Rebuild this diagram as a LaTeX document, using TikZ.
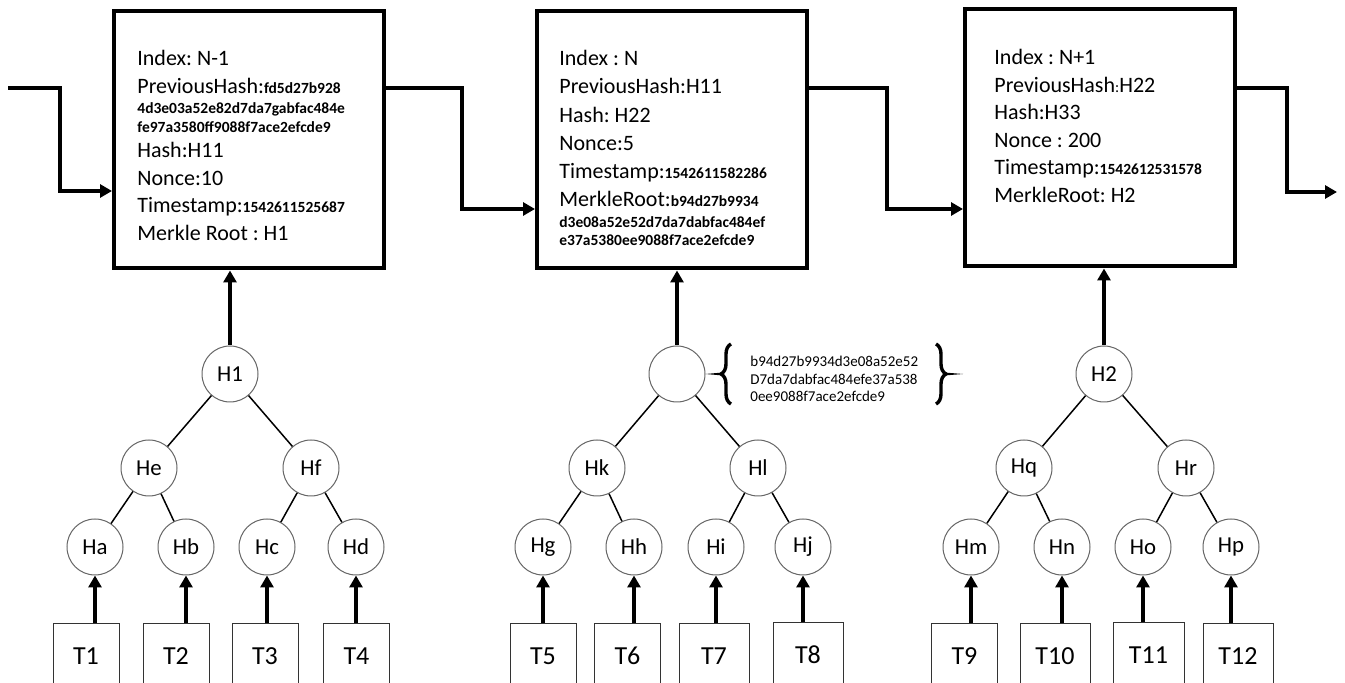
\documentclass[tikz,border=0pt]{standalone}
\usepackage{fontspec}
\setmainfont{Carlito}
\usetikzlibrary{arrows.meta, positioning, decorations.pathreplacing}
\frenchspacing

\tikzstyle{arrow}     = [line width=2pt,-{Triangle[length=6pt,width=6.5pt]}]
\tikzstyle{block}     = [draw, line width=2pt, rectangle, minimum width=135pt, minimum height=128.5pt, inner sep=0pt]
\tikzstyle{blocktext} = [anchor=north west, inner sep=0pt, align=left, font=\fontsize{11}{13.75}\selectfont]
\tikzstyle{hnode}     = [draw=black!60, line width=0.5pt, circle, fill=white, minimum size=28pt, inner sep=0pt, font=\fontsize{11.4}{13}\selectfont]
\tikzstyle{tx}        = [draw=black!80, line width=0.5pt, rectangle, minimum width=33pt, minimum height=32pt, inner sep=0pt, font=\fontsize{13}{15}\selectfont]
\tikzstyle{edge}      = [line width=0.75pt]
\tikzstyle{bracket}   = [decorate, decoration={brace, amplitude=5pt}, line width=1.7pt]

\newcommand{\smallhash}{\fontsize{7.75}{9.5}\selectfont\bfseries}

\begin{document}
\begin{tikzpicture}[x=0.5pt,y=-0.5pt]

\useasboundingbox (0,0) rectangle (1345,683);
\clip (0,0) rectangle (1345,683);

\node[block] (B1) at (249,140) {};
\node[block] (B2) at (672,140) {};
\node[block] (B3) at (1100,138) {};

\node[blocktext] (txt1) at (137,50) {Index: N-1\\
PreviousHash:{\smallhash fd5d27b928}\\[-3.5pt]
{\smallhash 4d3e03a52e82d7da7gabfac484e}\\[-4.25pt]
{\smallhash fe97a3580ff9088f7ace2efcde9}\\[-1.25pt]
Hash:H11\\
Nonce:10\\
Timestamp:{\smallhash 1542611525687}\\
Merkle Root : H1};

\node[blocktext, font=\fontsize{11}{14.1}\selectfont] (txt2) at (559,50) {Index : N\\
PreviousHash:H11\\
Hash: H22\\
Nonce:5\\
Timestamp:{\smallhash 1542611582286}\\
MerkleRoot:{\smallhash b94d27b9934}\\[-3.6pt]
{\smallhash d3e08a52e52d7da7dabfac484ef}\\[-5.1pt]
{\smallhash e37a5380ee9088f7ace2efcde9}};

\node[blocktext] (txt3) at (994,49) {Index : N+1\\
PreviousHash{\fontsize{7.75}{9}\selectfont:}H22\\
Hash:H33\\
Nonce : 200\\
Timestamp:{\smallhash 1542612531578}\\
MerkleRoot: H2};

\coordinate (in)  at (8,88);
\coordinate (k1)  at (60,191);
\coordinate (k2)  at (462,209);
\coordinate (k3)  at (887,209);
\coordinate (k4)  at (1287,192);
\coordinate (out) at (1337,192);

\draw[arrow] (in) -| (k1) -- (k1 -| B1.west);
\draw[arrow] (B1.east |- in) -| (k2) -- (k2 -| B2.west);
\draw[arrow] (B2.east |- in) -| (k3) -- (k3 -| B3.west);
\draw[arrow] (B3.east |- in) -| (k4) -- (out);

\node[hnode] (H1) at (230,374) {H1};
\node[hnode] (He) at (149,468) {He};
\node[hnode] (Hf) at (311,468) {Hf};
\node[hnode] (Ha) at (95,547)  {Ha};
\node[hnode] (Hb) at (186,547) {Hb};
\node[hnode] (Hc) at (267,547) {Hc};
\node[hnode] (Hd) at (356,547) {Hd};

\node[hnode] (R2) at (677,374) {};
\node[hnode] (Hk) at (597,468) {Hk};
\node[hnode] (Hl) at (758,468) {Hl};
\node[hnode] (Hg) at (543,547) {Hg};
\node[hnode] (Hh) at (634,547) {Hh};
\node[hnode] (Hi) at (716,547) {Hi};
\node[hnode] (Hj) at (803,547) {Hj};

\node[hnode] (H2) at (1104,374) {H2};
\node[hnode] (Hq) at (1024,468) {Hq};
\node[hnode] (Hr) at (1186,468) {Hr};
\node[hnode] (Hm) at (971,547)  {Hm};
\node[hnode] (Hn) at (1062,547) {Hn};
\node[hnode] (Ho) at (1143,547) {Ho};
\node[hnode] (Hp) at (1231,547) {Hp};

\node[tx] (T1)  at (86,656)    {T1};
\node[tx] (T2)  at (176,656)   {T2};
\node[tx] (T3)  at (265,656)   {T3};
\node[tx] (T4)  at (356.5,656) {T4};
\node[tx] (T5)  at (543,656)   {T5};
\node[tx] (T6)  at (627.5,656) {T6};
\node[tx, minimum width=35pt] (T7)  at (714,656)    {T7};
\node[tx, minimum width=35pt] (T8)  at (808,655)    {T8};
\node[tx] (T9)  at (964.5,656) {T9};
\node[tx, minimum width=35pt] (T10) at (1055,656)   {T10};
\node[tx, minimum width=35.5pt] (T11) at (1148.5,655) {T11};
\node[tx, minimum width=35pt] (T12) at (1238,656)   {T12};

\draw[edge] (H1) -- (He);
\draw[edge] (H1) -- (Hf);
\draw[edge] (He) -- (Ha);
\draw[edge] (He) -- (Hb);
\draw[edge] (Hf) -- (Hc);
\draw[edge] (Hf) -- (Hd);

\draw[edge] (R2) -- (Hk);
\draw[edge] (R2) -- (Hl);
\draw[edge] (Hk) -- (Hg);
\draw[edge] (Hk) -- (Hh);
\draw[edge] (Hl) -- (Hi);
\draw[edge] (Hl) -- (Hj);

\draw[edge] (H2) -- (Hq);
\draw[edge] (H2) -- (Hr);
\draw[edge] (Hq) -- (Hm);
\draw[edge] (Hq) -- (Hn);
\draw[edge] (Hr) -- (Ho);
\draw[edge] (Hr) -- (Hp);

\draw[arrow] (H1) -- (H1 |- B1.south);
\draw[arrow] (R2) -- (R2 |- B2.south);
\draw[arrow] (H2) -- (H2 |- B3.south);

\draw[arrow] (T1.north -| Ha) -- (Ha);
\draw[arrow] (T2.north -| Hb) -- (Hb);
\draw[arrow] (T3.north -| Hc) -- (Hc);
\draw[arrow] (T4.north -| Hd) -- (Hd);
\draw[arrow] (T5.north -| Hg) -- (Hg);
\draw[arrow] (T6.north -| Hh) -- (Hh);
\draw[arrow] (T7.north -| Hi) -- (Hi);
\draw[arrow] (T8.north -| Hj) -- (Hj);
\draw[arrow] (T9.north -| Hm) -- (Hm);
\draw[arrow] (T10.north -| Hn) -- (Hn);
\draw[arrow] (T11.north -| Ho) -- (Ho);
\draw[arrow] (T12.north -| Hp) -- (Hp);

\coordinate (bl1) at (731,404);
\coordinate (bl2) at (731,344);
\coordinate (blA) at (723,372.5);
\coordinate (blB) at (723,375.5);
\draw[bracket] (bl1) -- (bl2);
\fill (blA) -- (R2.east) -- (blB) -- cycle;

\node[anchor=north west, inner sep=0pt, align=left, font=\fontsize{7.5}{8.75}\selectfont] (rootval) at (750,356) {b94d27b9934d3e08a52e52\\D7da7dabfac484efe37a538\\0ee9088f7ace2efcde9};

\coordinate (br1) at (936,344);
\coordinate (br2) at (936,404);
\coordinate (brA) at (944,372.5);
\coordinate (brB) at (944,375.5);
\coordinate (brt) at (963,374);
\draw[bracket] (br1) -- (br2);
\fill (brA) -- (brt) -- (brB) -- cycle;

\end{tikzpicture}
\end{document}
